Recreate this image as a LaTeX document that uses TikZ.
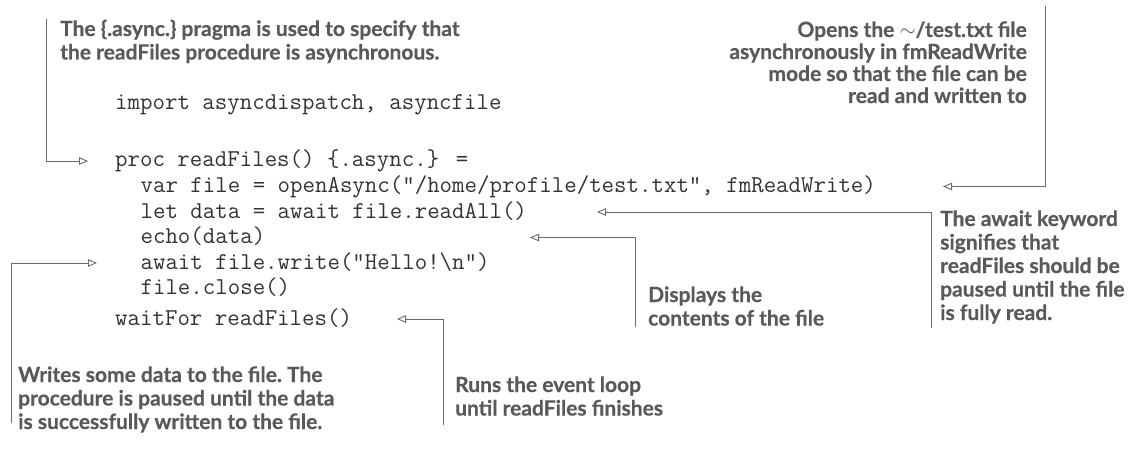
\documentclass[tikz,border=0pt]{standalone}
\usepackage{fontspec}
\newfontfamily\annfont{Lato}[BoldFeatures={FakeBold=0.5}]
\usetikzlibrary{arrows.meta}
\definecolor{anncol}{HTML}{595959}
\definecolor{codecol}{HTML}{333333}
\definecolor{linecol}{HTML}{6A6A6A}
\tikzset{
  ann/.style={inner sep=0pt, anchor=base west, text=anncol,
    font=\frenchspacing\annfont\bfseries\fontsize{21pt}{23.5pt}\selectfont},
  annr/.style={ann, anchor=base east},
  code/.style={inner sep=0pt, anchor=base west, text=codecol,
    font=\ttfamily\fontsize{24.2pt}{25.5pt}\selectfont},
  conn/.style={draw=linecol, line width=0.9pt,
    -{Triangle[open, length=9pt, width=7.5pt, fill=white]}},
}
\newcommand{\lft}[1]{\vtop{\baselineskip=23.5pt\halign{##\hfil\cr#1\crcr}}}
\newcommand{\rgt}[1]{\vtop{\baselineskip=22pt\halign{\hfil##\cr#1\crcr}}}
\begin{document}
\begin{tikzpicture}[x=1pt,y=-1pt]
\useasboundingbox (0,0) rectangle (1142,449);
% code lines
\node[code] (imp)   at (115,110) {import asyncdispatch, asyncfile};
\node[code] (proc)  at (115,167) {proc readFiles() \{.async.\} =};
\node[code] (var)   at (140.4,192.5) {var file = openAsync("/home/profile/test.txt", fmReadWrite)};
\node[code] (let)   at (140.4,218) {let data = await file.readAll()};
\node[code] (echo)  at (140.4,243.5) {echo(data)};
\node[code] (await) at (140.4,269) {await file.write("Hello!\textbackslash n")};
\node[code] (close) at (140.4,294.5) {file.close()};
\node[code] (wait)  at (115,325) {waitFor readFiles()};
% annotations
\node[ann] (annA) at (60,36) {\lft{The \{.async.\} pragma is used to specify that\cr the readFiles procedure is asynchronous.}};
\node[annr] (annO) at (1027,37) {\rgt{Opens the $\sim$/test.txt file\cr asynchronously in fmReadWrite\cr mode so that the file can be\cr read and written to}};
\node[ann] (annK) at (940,226) {\lft{The await keyword\cr signifies that\cr readFiles should be\cr paused until the file\cr is fully read.}};
\node[ann] (annD) at (648,302) {\lft{Displays the\cr contents of the file}};
\node[ann] (annW) at (18,382) {\lft{Writes some data to the file. The\cr procedure is paused until the data\cr is successfully written to the file.}};
\node[ann] (annR) at (455,392) {\lft{Runs the event loop\cr until readFiles finishes}};
% connector ends
\coordinate (aTop) at (46.5,19);   \coordinate (aTip) at (88,161);
\coordinate (oTop) at (1045,6);    \coordinate (oTip) at (943,186.5);
\coordinate (kBot) at (931,328);   \coordinate (kTip) at (597,212);
\coordinate (dBot) at (635,327);   \coordinate (dTip) at (530,237.5);
\coordinate (wBot) at (11.5,423);  \coordinate (wTip) at (97,263);
\coordinate (rBot) at (443,425);   \coordinate (rTip) at (397,319);
\draw[conn] (aTop) |- (aTip);
\draw[conn] (oTop) |- (oTip);
\draw[conn] (kBot) |- (kTip);
\draw[conn] (dBot) |- (dTip);
\draw[conn] (wBot) |- (wTip);
\draw[conn] (rBot) |- (rTip);
\end{tikzpicture}
\end{document}
